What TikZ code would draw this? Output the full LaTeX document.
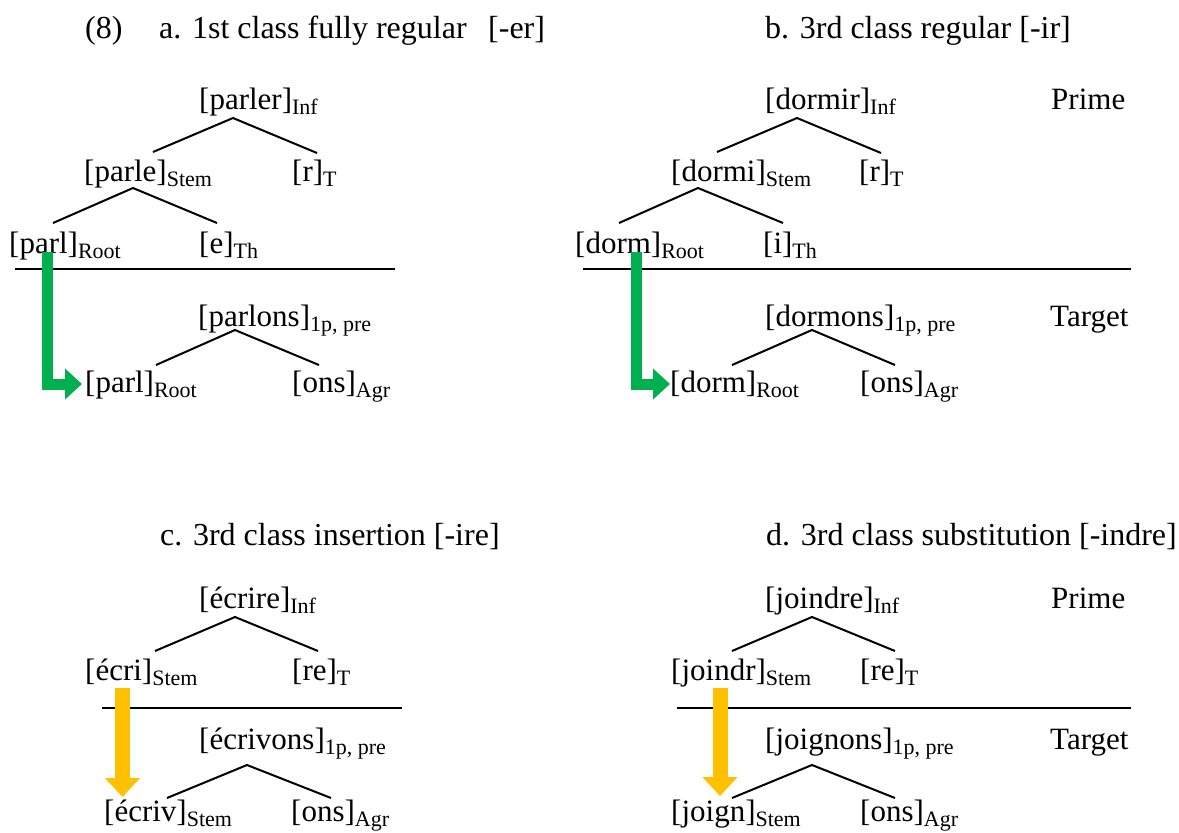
\documentclass[tikz,border=0pt]{standalone}
\usepackage{fontspec}
\setmainfont{Liberation Serif}
\usetikzlibrary{arrows.meta}
\definecolor{grn}{HTML}{00B050}
\definecolor{ylw}{HTML}{FFC000}
\newcommand{\lb}[2]{#1\raisebox{-5.5pt}{\fontsize{22}{25}\selectfont #2}}
\begin{document}
\begin{tikzpicture}[x=1pt,y=-1pt,
  txt/.style={anchor=base west, inner sep=0pt, font=\fontsize{31}{36}\selectfont},
  ttl/.style={anchor=base west, inner sep=0pt, font=\fontsize{32}{38}\selectfont},
  branch/.style={line width=2pt},
  sepline/.style={line width=2pt},
  garrow/.style={grn, line width=11pt, line join=miter, -{Triangle[length=17pt,width=30pt]}},
  yarrow/.style={ylw, line width=15pt, -{Triangle[length=19pt,width=34pt]}}]
\useasboundingbox (0,0) rectangle (1179,833);

% ---------- titles
\node[ttl] (t8) at (85,38) {(8)};
\node[ttl] (ta) at (159,38) {a. 1st class fully regular};
\node[ttl] (taer) at (488,38) {[-er]};
\node[ttl] (tb) at (765,38) {b. 3rd class regular [-ir]};
\node[ttl] (tc) at (160,545) {c. 3rd class insertion [-ire]};
\node[ttl] (td) at (766,545) {d. 3rd class substitution [-indre]};

% ---------- panel a
\node[txt] (aInf) at (199,109) {\lb{[parler]}{Inf}};
\node[txt] (aStem) at (84,181) {\lb{[parle]}{Stem}};
\node[txt] (aT) at (292,181) {\lb{[r]}{T}};
\node[txt] (aRoot) at (9,253) {\lb{[parl]}{Root}};
\node[txt] (aTh) at (199,253) {\lb{[e]}{Th}};
\node[txt] (aPre) at (198,326) {\lb{[parlons]}{1p, pre}};
\node[txt] (aRoot2) at (85,392) {\lb{[parl]}{Root}};
\node[txt] (aAgr) at (292,392) {\lb{[ons]}{Agr}};

\coordinate (a1) at (233,118); \coordinate (a1l) at (153,152); \coordinate (a1r) at (317,153);
\coordinate (a2) at (133,188); \coordinate (a2l) at (53,223); \coordinate (a2r) at (217,223);
\coordinate (a3) at (235,330); \coordinate (a3l) at (156,365); \coordinate (a3r) at (319,365);
\draw[branch] (a1l) -- (a1) -- (a1r);
\draw[branch] (a2l) -- (a2) -- (a2r);
\draw[branch] (a3l) -- (a3) -- (a3r);
\coordinate (aS1) at (15,269); \coordinate (aS2) at (395,269);
\draw[sepline] (aS1) -- (aS2);
\coordinate (aG1) at (47.5,252); \coordinate (aG2) at (82,384);
\draw[garrow] (aG1) |- (aG2);

% ---------- panel b
\node[txt] (bInf) at (765,109) {\lb{[dormir]}{Inf}};
\node[txt] (bPrime) at (1051,109) {Prime};
\node[txt] (bStem) at (671,181) {\lb{[dormi]}{Stem}};
\node[txt] (bT) at (859,181) {\lb{[r]}{T}};
\node[txt] (bRoot) at (575,253) {\lb{[dorm]}{Root}};
\node[txt] (bTh) at (763,253) {\lb{[i]}{Th}};
\node[txt] (bPre) at (765,326) {\lb{[dormons]}{1p, pre}};
\node[txt] (bTarget) at (1050,326) {Target};
\node[txt] (bRoot2) at (670,392) {\lb{[dorm]}{Root}};
\node[txt] (bAgr) at (860,392) {\lb{[ons]}{Agr}};

\coordinate (b1) at (797,118); \coordinate (b1l) at (717,152); \coordinate (b1r) at (881,153);
\coordinate (b2) at (698,188); \coordinate (b2l) at (619,223); \coordinate (b2r) at (783,223);
\coordinate (b3) at (812,330); \coordinate (b3l) at (732,365); \coordinate (b3r) at (895,365);
\draw[branch] (b1l) -- (b1) -- (b1r);
\draw[branch] (b2l) -- (b2) -- (b2r);
\draw[branch] (b3l) -- (b3) -- (b3r);
\coordinate (bS1) at (583,269); \coordinate (bS2) at (1131,269);
\draw[sepline] (bS1) -- (bS2);
\coordinate (bG1) at (636,252); \coordinate (bG2) at (670,384);
\draw[garrow] (bG1) |- (bG2);

% ---------- panel c
\node[txt] (cInf) at (199,608) {\lb{[écrire]}{Inf}};
\node[txt] (cStem) at (85,680) {\lb{[écri]}{Stem}};
\node[txt] (cT) at (292,680) {\lb{[re]}{T}};
\node[txt] (cPre) at (199,749) {\lb{[écrivons]}{1p, pre}};
\node[txt] (cStem2) at (104,821) {\lb{[écriv]}{Stem}};
\node[txt] (cAgr) at (291,821) {\lb{[ons]}{Agr}};

\coordinate (c1) at (235,617); \coordinate (c1l) at (155,651); \coordinate (c1r) at (318,651);
\coordinate (c2) at (247,765); \coordinate (c2l) at (167,798); \coordinate (c2r) at (331,798);
\draw[branch] (c1l) -- (c1) -- (c1r);
\draw[branch] (c2l) -- (c2) -- (c2r);
\coordinate (cS1) at (102,708); \coordinate (cS2) at (402,708);
\draw[sepline] (cS1) -- (cS2);
\coordinate (cY1) at (122.5,688); \coordinate (cY2) at (122.5,797);
\draw[yarrow] (cY1) -- (cY2);

% ---------- panel d
\node[txt] (dInf) at (765,608) {\lb{[joindre]}{Inf}};
\node[txt] (dPrime) at (1051,608) {Prime};
\node[txt] (dStem) at (671,680) {\lb{[joindr]}{Stem}};
\node[txt] (dT) at (860,680) {\lb{[re]}{T}};
\node[txt] (dPre) at (765,749) {\lb{[joignons]}{1p, pre}};
\node[txt] (dTarget) at (1050,749) {Target};
\node[txt] (dStem2) at (671,821) {\lb{[joign]}{Stem}};
\node[txt] (dAgr) at (860,821) {\lb{[ons]}{Agr}};

\coordinate (d1) at (812,617); \coordinate (d1l) at (732,651); \coordinate (d1r) at (895,651);
\coordinate (d2) at (812,765); \coordinate (d2l) at (732,798); \coordinate (d2r) at (895,798);
\draw[branch] (d1l) -- (d1) -- (d1r);
\draw[branch] (d2l) -- (d2) -- (d2r);
\coordinate (dS1) at (677,708); \coordinate (dS2) at (1131,708);
\draw[sepline] (dS1) -- (dS2);
\coordinate (dY1) at (720,688); \coordinate (dY2) at (720,796);
\draw[yarrow] (dY1) -- (dY2);
\end{tikzpicture}
\end{document}
